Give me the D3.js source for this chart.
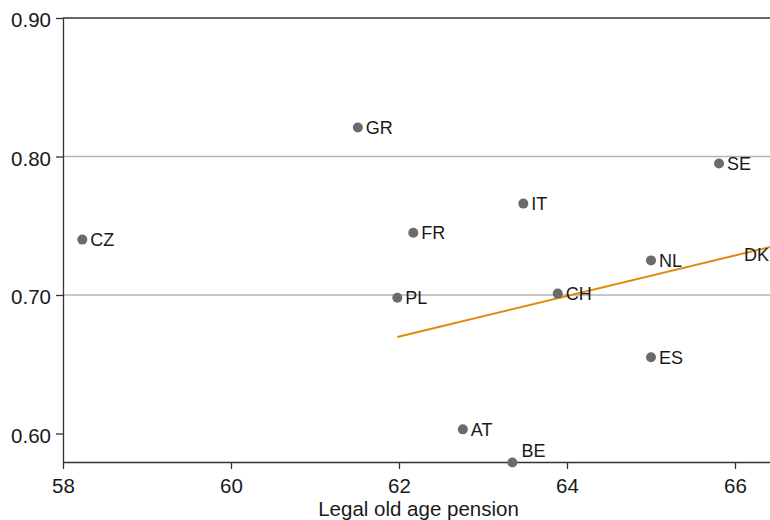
<!DOCTYPE html>
<html>
<head>
<meta charset="utf-8">
<script src="https://cdn.jsdelivr.net/npm/d3@7"></script>
<style>
  html, body { margin: 0; padding: 0; background: #fff; }
  svg { display: block; font-family: "Liberation Sans", Arial, Helvetica, sans-serif; }
</style>
</head>
<body>
<svg id="chart" width="770" height="520"></svg>
<script>
// Country codes with legal old-age pension age (x) and outcome ratio (y)
const countries = ["CZ", "GR", "SE", "IT", "FR", "NL", "DK", "CH", "PL", "ES", "AT", "BE"];
const pensionAge = [58.23, 61.51, 65.81, 63.48, 62.17, 65.0, 66.5, 63.89, 61.98, 65.0, 62.76, 63.35];
const ratio = [0.740, 0.821, 0.795, 0.766, 0.745, 0.725, 0.729, 0.701, 0.698, 0.655, 0.603, 0.579];
// label placement: "r" right of the dot, "l" left, "t" above-right
const labelPos = ["r", "r", "r", "r", "r", "r", "l", "r", "r", "r", "r", "t"];

// Fitted linear trend endpoints
const fitX = [61.98, 66.42];
const fitY = [0.6697, 0.7347];

const xTicks = [58, 60, 62, 64, 66];
const yTicks = [0.60, 0.70, 0.80, 0.90];
const gridTicks = [0.70, 0.80];

const width = 770, height = 520;
const margin = { top: 18, right: 0, bottom: 58, left: 63 };

const svg = d3.select("#chart");

const x = d3.scaleLinear()
  .domain([58, 58 + (width - margin.left) / 84])
  .range([margin.left, width - margin.right]);

const y = d3.scaleLinear()
  .domain([0.90 - (height - margin.bottom - margin.top) / 1385, 0.90])
  .range([height - margin.bottom, margin.top]);

svg.append("defs").append("clipPath").attr("id", "plot-clip")
  .append("rect")
  .attr("x", margin.left).attr("y", margin.top - 6)
  .attr("width", width - margin.left - margin.right)
  .attr("height", height - margin.bottom - margin.top + 12);

// horizontal gridlines
svg.append("g")
  .selectAll("line")
  .data(gridTicks)
  .join("line")
  .attr("x1", margin.left).attr("x2", width - margin.right)
  .attr("y1", d => y(d)).attr("y2", d => y(d))
  .attr("stroke", "#b3b3b3").attr("stroke-width", 1.3);

// top frame line at 0.90
svg.append("line")
  .attr("x1", margin.left).attr("x2", width - margin.right)
  .attr("y1", y(0.90)).attr("y2", y(0.90))
  .attr("stroke", "#333").attr("stroke-width", 1.3);

// axes
const xAxis = svg.append("g")
  .attr("transform", `translate(0,${height - margin.bottom})`)
  .call(d3.axisBottom(x).tickValues(xTicks).tickFormat(d3.format("d")).tickSize(7).tickSizeOuter(0));

const yAxis = svg.append("g")
  .attr("transform", `translate(${margin.left},0)`)
  .call(d3.axisLeft(y).tickValues(yTicks).tickFormat(d3.format(".2f")).tickSize(7).tickSizeOuter(0));

[xAxis, yAxis].forEach(g => {
  g.select(".domain").attr("stroke", "#333").attr("stroke-width", 1.3);
  g.selectAll(".tick line").attr("stroke", "#333").attr("stroke-width", 1.3);
  g.selectAll(".tick text")
    .attr("fill", "#1a1a1a")
    .style("font-size", "20.5px")
    .style("font-family", "'Liberation Sans', Arial, sans-serif");
});
xAxis.selectAll(".tick text").attr("y", 16);
yAxis.selectAll(".tick text").attr("x", -12).attr("dy", "0.42em");

// axis title
svg.append("text")
  .attr("x", (margin.left + width) / 2 + 2)
  .attr("y", 515.5)
  .attr("text-anchor", "middle")
  .attr("fill", "#1a1a1a")
  .style("font-size", "20.5px")
  .text("Legal old age pension");

const plot = svg.append("g").attr("clip-path", "url(#plot-clip)");

// fitted trend line
plot.append("line")
  .attr("x1", x(fitX[0])).attr("y1", y(fitY[0]))
  .attr("x2", x(fitX[1])).attr("y2", y(fitY[1]))
  .attr("stroke", "#e08a0b").attr("stroke-width", 2);

const data = countries.map((c, i) => ({ c, x: pensionAge[i], y: ratio[i], pos: labelPos[i] }));

// points
plot.selectAll("circle")
  .data(data)
  .join("circle")
  .attr("cx", d => x(d.x))
  .attr("cy", d => y(d.y))
  .attr("r", 5)
  .attr("fill", "#6b6b6b");

// labels
svg.append("g")
  .selectAll("text")
  .data(data)
  .join("text")
  .attr("x", d => d.pos === "l" ? x(d.x) - 8 : x(d.x) + (d.pos === "t" ? 9 : 8))
  .attr("y", d => d.pos === "t" ? y(d.y) - 12 : y(d.y))
  .attr("dy", "0.36em")
  .attr("text-anchor", d => d.pos === "l" ? "end" : "start")
  .attr("fill", "#1a1a1a")
  .style("font-size", "18px")
  .text(d => d.c);
</script>
</body>
</html>
